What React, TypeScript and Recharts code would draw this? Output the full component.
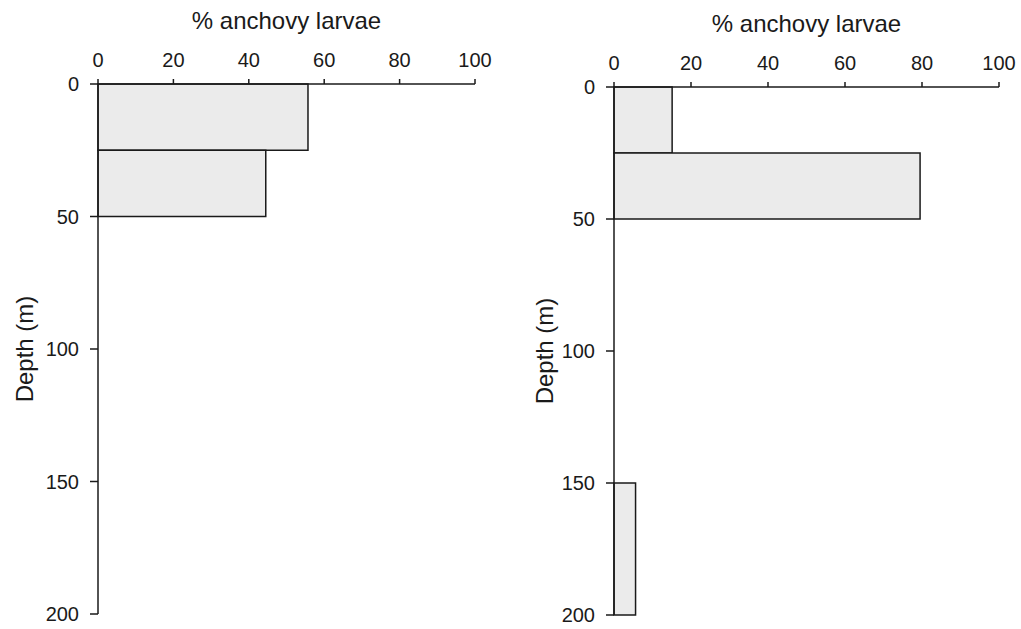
import React from 'react';
import { ComposedChart, XAxis, YAxis, ReferenceArea } from 'recharts';

// depth bins (m) and % of anchovy larvae in each bin
const leftTop = [0, 25];
const leftBottom = [25, 50];
const leftPct = [55.7, 44.5];

const rightTop = [0, 25, 150];
const rightBottom = [25, 50, 200];
const rightPct = [15.1, 79.5, 5.6];

const pctTicks = [0, 20, 40, 60, 80, 100];
const depthTicks = [0, 50, 100, 150, 200];

const FONT = '"Liberation Sans", Arial, Helvetica, sans-serif';
const INK = '#1a1a1a';

interface PanelProps {
  tops: number[];
  bottoms: number[];
  pcts: number[];
  width: number;
  margin: { top: number; right: number; bottom: number; left: number };
  labelDx: number;
}

const Panel: React.FC<PanelProps> = ({ tops, bottoms, pcts, width, margin, labelDx }) => {
  const rows = pcts.map((p, i) => ({ top: tops[i], bottom: bottoms[i], pct: p }));
  return (
    <ComposedChart width={width} height={629} data={rows} margin={margin} style={{ fontFamily: FONT }}>
      <XAxis
        type="number"
        orientation="top"
        dataKey="pct"
        domain={[0, 100]}
        ticks={pctTicks}
        height={45}
        tickSize={5}
        tickMargin={12}
        allowDataOverflow
        axisLine={{ stroke: INK, strokeWidth: 1.5 }}
        tickLine={{ stroke: INK, strokeWidth: 1.5 }}
        tick={{ fill: INK, fontSize: 20, fontFamily: FONT }}
        label={{ value: '% anchovy larvae', position: 'top', offset: 10, fill: INK, fontSize: 24, fontFamily: FONT }}
      />
      <YAxis
        type="number"
        dataKey="top"
        reversed
        domain={[0, 200]}
        ticks={depthTicks}
        width={60}
        tickSize={8}
        tickMargin={11}
        allowDataOverflow
        axisLine={{ stroke: INK, strokeWidth: 1.5 }}
        tickLine={{ stroke: INK, strokeWidth: 1.5 }}
        tick={{ fill: INK, fontSize: 20, fontFamily: FONT }}
        label={{ value: 'Depth (m)', angle: -90, position: 'center', dx: labelDx, fill: INK, fontSize: 24, fontFamily: FONT }}
      />
      {rows.map((r, i) => (
        <ReferenceArea
          key={i}
          x1={0}
          x2={r.pct}
          y1={r.top}
          y2={r.bottom}
          fill="#ebebeb"
          fillOpacity={1}
          stroke={INK}
          strokeWidth={1.5}
        />
      ))}
    </ComposedChart>
  );
};

export default function App() {
  return (
    <div style={{ position: 'absolute', left: 0, top: 0, width: 1021, height: 629, background: '#fff' }}>
      <div style={{ position: 'absolute', left: 0, top: 0 }}>
        <Panel
          tops={leftTop}
          bottoms={leftBottom}
          pcts={leftPct}
          width={510}
          margin={{ top: 39, right: 35, bottom: 15, left: 38 }}
          labelDx={-44}
        />
      </div>
      <div style={{ position: 'absolute', left: 510, top: 0 }}>
        <Panel
          tops={rightTop}
          bottoms={rightBottom}
          pcts={rightPct}
          width={511}
          margin={{ top: 42, right: 22, bottom: 14, left: 44 }}
          labelDx={-40}
        />
      </div>
    </div>
  );
}
